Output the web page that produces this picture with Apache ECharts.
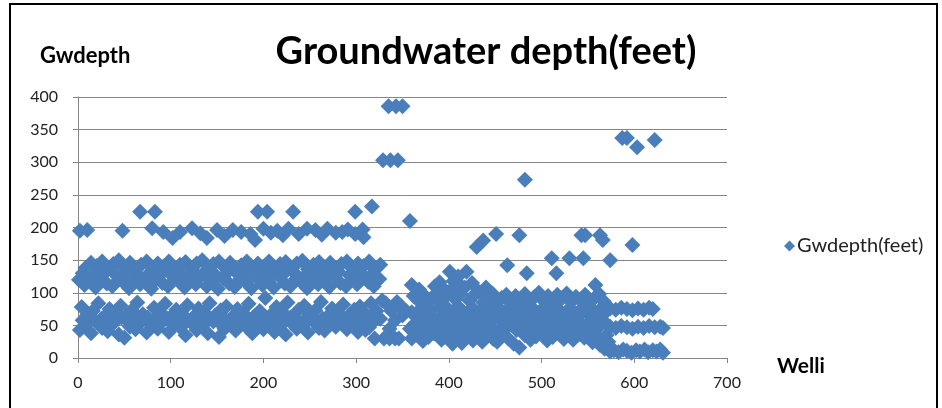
<!DOCTYPE html>
<html>
<head>
<meta charset="utf-8">
<script src="https://cdn.jsdelivr.net/npm/echarts@6/dist/echarts.min.js"></script>
<style>
  html, body { margin: 0; padding: 0; background: #fff; }
  #chart { width: 942px; height: 408px; }
</style>
</head>
<body>
<div id="chart"></div>
<script>
// [well index, groundwater depth in feet], grouped by visual cluster
const highPoints = [
  [67, 224], [83, 224], [194, 224], [204, 224], [232, 224], [299, 224], [317, 232],
  [329, 303], [337, 303], [345, 303], [335, 386], [343, 386], [350, 386], [358, 210],
  [430, 170], [437, 180], [451, 190], [476, 188], [482, 273], [463, 142], [484, 130],
  [511, 153], [516, 130], [530, 153], [543, 188], [545, 153], [547, 188], [563, 188],
  [566, 181], [574, 150], [598, 173], [587, 337], [592, 337], [603, 323], [622, 334], [558, 112]
]
const band195 = [
  [2, 195], [10, 196], [48, 195], [80, 199], [92, 193], [102, 184], [110, 193], [123, 199],
  [132, 191], [139, 184], [150, 196], [158, 187], [167, 196], [176, 193], [186, 190], [191, 181],
  [200, 198], [208, 192], [215, 195], [221, 188], [227, 198], [238, 190], [247, 198], [256, 196],
  [263, 189], [269, 198], [278, 192], [285, 193], [291, 197], [299, 190], [307, 197], [308, 185]
]
const band140 = [
  [8, 138], [14, 146], [20, 141], [26, 148], [32, 135], [38, 144], [44, 150], [50, 139], [56, 146],
  [62, 134], [68, 143], [74, 148], [80, 137], [86, 145], [92, 140], [98, 148], [104, 134], [110, 143],
  [116, 147], [122, 138], [128, 145], [134, 150], [140, 136], [146, 144], [152, 148], [158, 139],
  [164, 146], [170, 133], [176, 142], [182, 148], [188, 138], [194, 145], [200, 140], [206, 148],
  [212, 135], [218, 144], [224, 147], [230, 138], [236, 145], [242, 149], [248, 136], [254, 143],
  [260, 147], [266, 139], [272, 146], [278, 133], [284, 144], [290, 148], [296, 137], [302, 145],
  [308, 141], [314, 148], [320, 136], [326, 143]
]
const band128 = [
  [5, 130], [17, 127], [29, 131], [41, 128], [53, 132], [65, 126], [77, 130], [89, 128], [101, 131],
  [113, 127], [125, 132], [137, 129], [149, 126], [161, 131], [173, 128], [185, 132], [197, 127],
  [209, 130], [221, 128], [233, 131], [245, 126], [257, 130], [269, 128], [281, 132], [293, 127],
  [305, 130], [317, 128]
]
const band115 = [
  [1, 120], [7, 112], [13, 118], [19, 108], [25, 122], [31, 114], [37, 110], [43, 124], [49, 116],
  [55, 107], [61, 120], [67, 113], [73, 118], [79, 106], [85, 121], [91, 115], [97, 110], [103, 124],
  [109, 117], [115, 108], [121, 120], [127, 113], [133, 126], [139, 110], [145, 118], [151, 106],
  [157, 122], [163, 114], [169, 109], [175, 121], [181, 116], [187, 107], [193, 123], [199, 112],
  [205, 118], [211, 108], [217, 125], [223, 114], [229, 110], [235, 121], [241, 116], [247, 107],
  [253, 122], [259, 113], [265, 118], [271, 109], [277, 124], [283, 115], [289, 110], [295, 120],
  [301, 113], [307, 126], [313, 117], [319, 110], [325, 121]
]
const band70 = [
  [4, 78], [10, 66], [16, 72], [22, 84], [28, 62], [34, 75], [40, 69], [46, 80], [52, 64], [58, 73],
  [64, 85], [70, 67], [76, 60], [82, 77], [88, 71], [94, 83], [100, 63], [106, 74], [112, 68],
  [118, 81], [124, 62], [130, 76], [136, 70], [142, 84], [148, 65], [154, 73], [160, 79], [166, 61],
  [172, 75], [178, 69], [184, 83], [190, 64], [196, 72], [202, 92], [208, 66], [214, 78], [220, 71],
  [226, 85], [232, 63], [238, 74], [244, 80], [250, 67], [256, 73], [262, 86], [268, 62], [274, 76],
  [280, 70], [286, 82], [292, 65], [298, 74], [304, 79], [310, 68], [316, 84], [322, 72], [328, 88]
]
const band58 = [
  [5, 58], [12, 60], [19, 56], [26, 61], [33, 57], [40, 59], [47, 62], [54, 56], [61, 60], [68, 57],
  [75, 62], [82, 58], [89, 55], [96, 61], [103, 57], [110, 60], [117, 56], [124, 59], [131, 62],
  [138, 57], [145, 60], [152, 55], [159, 59], [166, 62], [173, 57], [180, 60], [187, 56], [194, 61],
  [201, 58], [208, 55], [215, 60], [222, 57], [229, 62], [236, 58], [243, 56], [250, 61], [257, 57],
  [264, 60], [271, 55], [278, 59], [285, 62], [292, 57], [299, 60], [306, 56], [313, 61], [320, 58]
]
const band45 = [
  [2, 43], [8, 50], [14, 38], [20, 55], [26, 46], [32, 41], [38, 53], [44, 36], [50, 31], [56, 48],
  [62, 44], [68, 55], [74, 39], [80, 50], [86, 45], [92, 57], [98, 40], [104, 52], [110, 47],
  [116, 35], [122, 54], [128, 43], [134, 49], [140, 38], [146, 56], [152, 32], [158, 45], [164, 51],
  [170, 42], [176, 55], [182, 47], [188, 38], [194, 53], [200, 44], [206, 57], [212, 40], [218, 49],
  [224, 36], [230, 54], [236, 45], [242, 50], [248, 39], [254, 56], [260, 46], [266, 42], [272, 53],
  [278, 48], [284, 58], [290, 44], [296, 51], [302, 40], [310, 43], [314, 47], [320, 30]
]
const midWells = [
  [326, 60], [330, 30], [332, 84], [336, 45], [336, 30], [338, 72], [342, 58], [342, 30], [344, 86],
  [346, 30], [348, 80], [350, 65], [354, 72],
  [360, 112], [368, 105], [385, 110], [390, 116], [395, 105], [401, 132], [405, 118], [410, 125],
  [412, 112], [419, 132], [425, 115], [440, 108],
  [362, 95], [367, 88], [372, 98], [377, 84], [382, 92], [387, 100], [392, 86], [397, 95], [402, 104],
  [407, 90], [412, 98], [417, 108], [422, 88], [427, 96], [432, 102], [437, 85], [442, 94], [447, 99],
  [452, 87], [457, 92], [462, 97], [467, 84], [472, 95], [477, 90], [482, 98], [487, 86], [492, 93],
  [497, 100], [502, 88], [507, 95], [512, 84], [517, 97], [522, 91], [527, 99], [532, 86], [537, 94],
  [542, 89], [547, 97], [552, 85], [557, 92], [562, 98], [567, 87],
  [360, 70], [365, 62], [370, 76], [375, 66], [380, 72], [385, 60], [390, 78], [395, 68], [400, 74],
  [405, 63], [410, 79], [415, 70], [420, 65], [425, 77], [430, 61], [435, 73], [440, 68], [445, 79],
  [450, 64], [455, 75], [460, 70], [465, 62], [470, 78], [475, 66], [480, 73], [485, 61], [490, 77],
  [495, 69], [500, 74], [505, 63], [510, 79], [515, 67], [520, 72], [525, 60], [530, 76], [535, 70],
  [540, 65], [545, 78], [550, 68], [555, 74], [560, 62], [565, 77], [569, 70],
  [358, 45], [363, 52], [368, 41], [373, 56], [378, 47], [383, 58], [388, 43], [393, 50], [398, 55],
  [403, 40], [408, 53], [413, 46], [418, 58], [423, 42], [428, 51], [433, 56], [438, 44], [443, 49],
  [448, 59], [453, 41], [458, 54], [463, 47], [468, 57], [473, 43], [478, 50], [483, 55], [488, 40],
  [493, 52], [498, 46], [503, 58], [508, 42], [513, 51], [518, 56], [523, 44], [528, 49], [533, 59],
  [538, 41], [543, 53], [548, 47], [553, 57], [558, 43], [563, 50], [568, 55],
  [360, 30], [366, 35], [372, 26], [378, 32], [384, 38], [392, 28], [398, 34], [404, 22], [410, 30],
  [414, 23], [420, 36], [426, 27], [432, 33], [436, 25], [442, 38], [448, 29], [452, 25], [458, 34],
  [464, 30], [470, 22], [476, 16], [482, 35], [488, 28], [494, 33], [500, 37], [506, 27], [512, 32],
  [518, 38], [524, 29], [530, 34], [534, 28], [540, 36], [546, 31], [552, 37], [555, 24], [560, 33],
  [565, 22], [570, 35], [572, 25]
]
const tailWells = [
  [574, 76], [580, 74], [586, 77], [592, 75], [598, 73], [604, 76], [610, 74], [616, 77], [620, 75],
  [574, 48], [580, 46], [586, 49], [592, 47], [598, 45], [604, 48], [610, 46], [616, 49], [622, 47],
  [628, 48], [631, 46],
  [563, 20], [568, 14], [574, 10], [578, 12], [583, 9], [588, 13], [592, 11], [597, 8], [602, 12],
  [606, 10], [611, 13], [615, 9], [620, 12], [624, 10], [628, 13], [631, 8]
]

const seriesName = 'Gwdepth(feet)'
const allPoints = [].concat(
  highPoints, band195, band140, band128, band115, band70, band58, band45, midWells, tailWells
)

const chart = echarts.init(document.getElementById('chart'))
const font = 'Lato, "Liberation Sans", sans-serif'

const option = {
  animation: false,
  backgroundColor: '#fff',
  grid: { left: 78, right: 215, top: 97, bottom: 50 },
  title: {
    text: 'Groundwater depth(feet)',
    left: 481,
    top: 28,
    textAlign: 'center',
    textStyle: { fontFamily: font, fontSize: 38, fontWeight: 'bold', color: '#000' },
  },
  legend: {
    data: [seriesName],
    left: 779,
    top: 231,
    icon: 'diamond',
    itemWidth: 11,
    itemHeight: 11,
    selectedMode: false,
    textStyle: { fontFamily: font, fontSize: 20, color: '#222', padding: [0, 0, 0, -3] },
  },
  xAxis: {
    type: 'value',
    min: 0,
    max: 700,
    interval: 100,
    axisLine: { show: true, lineStyle: { color: '#868686' } },
    axisTick: { show: true, length: 5, lineStyle: { color: '#868686' } },
    splitLine: { show: false },
    axisLabel: { fontFamily: font, fontSize: 16, color: '#222', margin: 17 },
  },
  yAxis: {
    type: 'value',
    min: 0,
    max: 400,
    interval: 50,
    axisLine: { show: true, lineStyle: { color: '#868686' } },
    axisTick: { show: true, length: 5, lineStyle: { color: '#868686' } },
    splitLine: { show: true, lineStyle: { color: '#868686', width: 1 } },
    axisLabel: { fontFamily: font, fontSize: 16, color: '#222', margin: 20 },
  },
  graphic: [
    {
      type: 'rect',
      shape: { x: 10, y: 4, width: 927, height: 430 },
      style: { fill: 'none', stroke: '#000', lineWidth: 2 },
      silent: true,
    },
    {
      type: 'text',
      left: 40,
      top: 45,
      style: { text: 'Gwdepth', fontFamily: font, fontSize: 22, fontWeight: 'bold', fill: '#000' },
    },
    {
      type: 'text',
      left: 777,
      top: 356,
      style: { text: 'Welli', fontFamily: font, fontSize: 21, fontWeight: 'bold', fill: '#000' },
    },
  ],
  series: [
    {
      name: seriesName,
      type: 'scatter',
      symbol: 'diamond',
      symbolSize: 16,
      itemStyle: { color: '#4A7EBB', opacity: 1 },
      data: allPoints,
    },
  ],
}
chart.setOption(option)
</script>
</body>
</html>
